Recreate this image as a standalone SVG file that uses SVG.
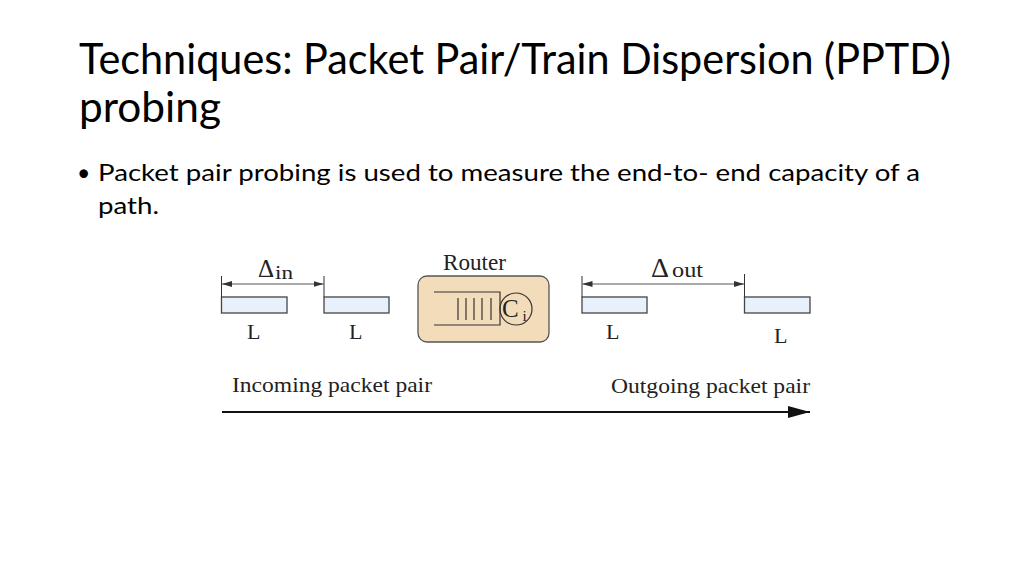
<svg xmlns="http://www.w3.org/2000/svg" width="1024" height="576" viewBox="0 0 1024 576">
<style>
.title{font-family:Lato,"Open Sans","Liberation Sans",sans-serif;font-size:42px;fill:#000}
.body{font-family:Lato,"Open Sans","Liberation Sans",sans-serif;font-size:23px;fill:#000}
.serif{font-family:"Liberation Serif","Times New Roman",serif;fill:#222}
.pkt{fill:#e8f1fb;stroke:#444;stroke-width:1.3}
.dim{stroke:#555;stroke-width:1;fill:none}
.tick{stroke:#333;stroke-width:1}
</style>
<defs>
<marker id="dimArrow" viewBox="0 0 10 6" refX="10" refY="3" markerWidth="10" markerHeight="6" orient="auto-start-reverse" markerUnits="userSpaceOnUse">
<path d="M0,0 L10,3 L0,6 z" fill="#333"/>
</marker>
<marker id="bigArrow" viewBox="0 0 22 12" refX="22" refY="6" markerWidth="22" markerHeight="12" orient="auto" markerUnits="userSpaceOnUse">
<path d="M0,0 L22,6 L0,12 z" fill="#111"/>
</marker>
</defs>
<rect width="1024" height="576" fill="#fff"/>
<g id="title">
<text class="title" x="79" y="74" textLength="872" lengthAdjust="spacingAndGlyphs">Techniques: Packet Pair/Train Dispersion (PPTD)</text>
<text class="title" x="79" y="122" textLength="142" lengthAdjust="spacingAndGlyphs">probing</text>
</g>
<g id="bullet">
<text class="body" x="77" y="181">•</text>
<text class="body" x="98" y="181" textLength="822" lengthAdjust="spacingAndGlyphs">Packet pair probing is used to measure the end-to- end capacity of a</text>
<text class="body" x="98" y="214" textLength="61" lengthAdjust="spacingAndGlyphs">path.</text>
</g>
<g id="packet-in-1">
<rect class="pkt" x="221.5" y="297" width="65.5" height="16"/>
<text class="serif" x="247" y="339" font-size="22">L</text>
</g>
<g id="packet-in-2">
<rect class="pkt" x="324" y="297" width="65" height="16"/>
<text class="serif" x="349" y="339" font-size="22">L</text>
</g>
<g id="delta-in">
<line class="tick" x1="221.5" y1="276" x2="221.5" y2="297"/>
<line class="tick" x1="324" y1="276" x2="324" y2="297"/>
<text class="serif" x="258" y="277" font-size="25">Δ</text>
<text class="serif" x="275" y="279" font-size="19" textLength="18" lengthAdjust="spacingAndGlyphs">in</text>
</g>
<g id="router">
<text class="serif" x="443" y="270" font-size="22.5" textLength="63" lengthAdjust="spacingAndGlyphs">Router</text>
<rect x="418" y="276" width="131" height="66" rx="9" fill="#f3dcba" stroke="#555" stroke-width="1.3"/>
<path d="M434,292 H500 V325 H434" fill="none" stroke="#333" stroke-width="1.2"/>
<g stroke="#333" stroke-width="1.2">
<line x1="458" y1="298" x2="458" y2="320"/>
<line x1="466" y1="298" x2="466" y2="320"/>
<line x1="474" y1="298" x2="474" y2="320"/>
<line x1="482" y1="298" x2="482" y2="320"/>
<line x1="491" y1="298" x2="491" y2="320"/>
</g>
<circle cx="516" cy="309" r="16" fill="none" stroke="#333" stroke-width="1.2"/>
<text class="serif" x="502" y="317" font-size="25">C</text>
<text class="serif" x="522.5" y="321" font-size="15">i</text>
</g>
<g id="packet-out-1">
<rect class="pkt" x="582" y="297" width="65" height="16"/>
<text class="serif" x="606" y="339" font-size="22">L</text>
</g>
<g id="packet-out-2">
<rect class="pkt" x="744.5" y="297" width="65.5" height="16"/>
<text class="serif" x="774" y="343" font-size="22">L</text>
</g>
<g id="delta-out">
<line class="tick" x1="582" y1="276" x2="582" y2="297"/>
<line class="tick" x1="744.5" y1="274" x2="744.5" y2="297"/>
<text class="serif" x="651" y="277" font-size="28">Δ</text>
<text class="serif" x="672" y="277" font-size="20" textLength="31" lengthAdjust="spacingAndGlyphs">out</text>
</g>
<g id="labels">
<text class="serif" x="232" y="392" font-size="22" textLength="200" lengthAdjust="spacingAndGlyphs">Incoming packet pair</text>
<text class="serif" x="611" y="393" font-size="22" textLength="199" lengthAdjust="spacingAndGlyphs">Outgoing packet pair</text>
</g>
<g id="connectors">
<line class="dim" x1="222" y1="284" x2="323.5" y2="284" marker-start="url(#dimArrow)" marker-end="url(#dimArrow)"/>
<line class="dim" x1="582.5" y1="284" x2="744" y2="284" marker-start="url(#dimArrow)" marker-end="url(#dimArrow)"/>
<line x1="222" y1="412" x2="810" y2="412" stroke="#111" stroke-width="2" marker-end="url(#bigArrow)"/>
</g>
</svg>
